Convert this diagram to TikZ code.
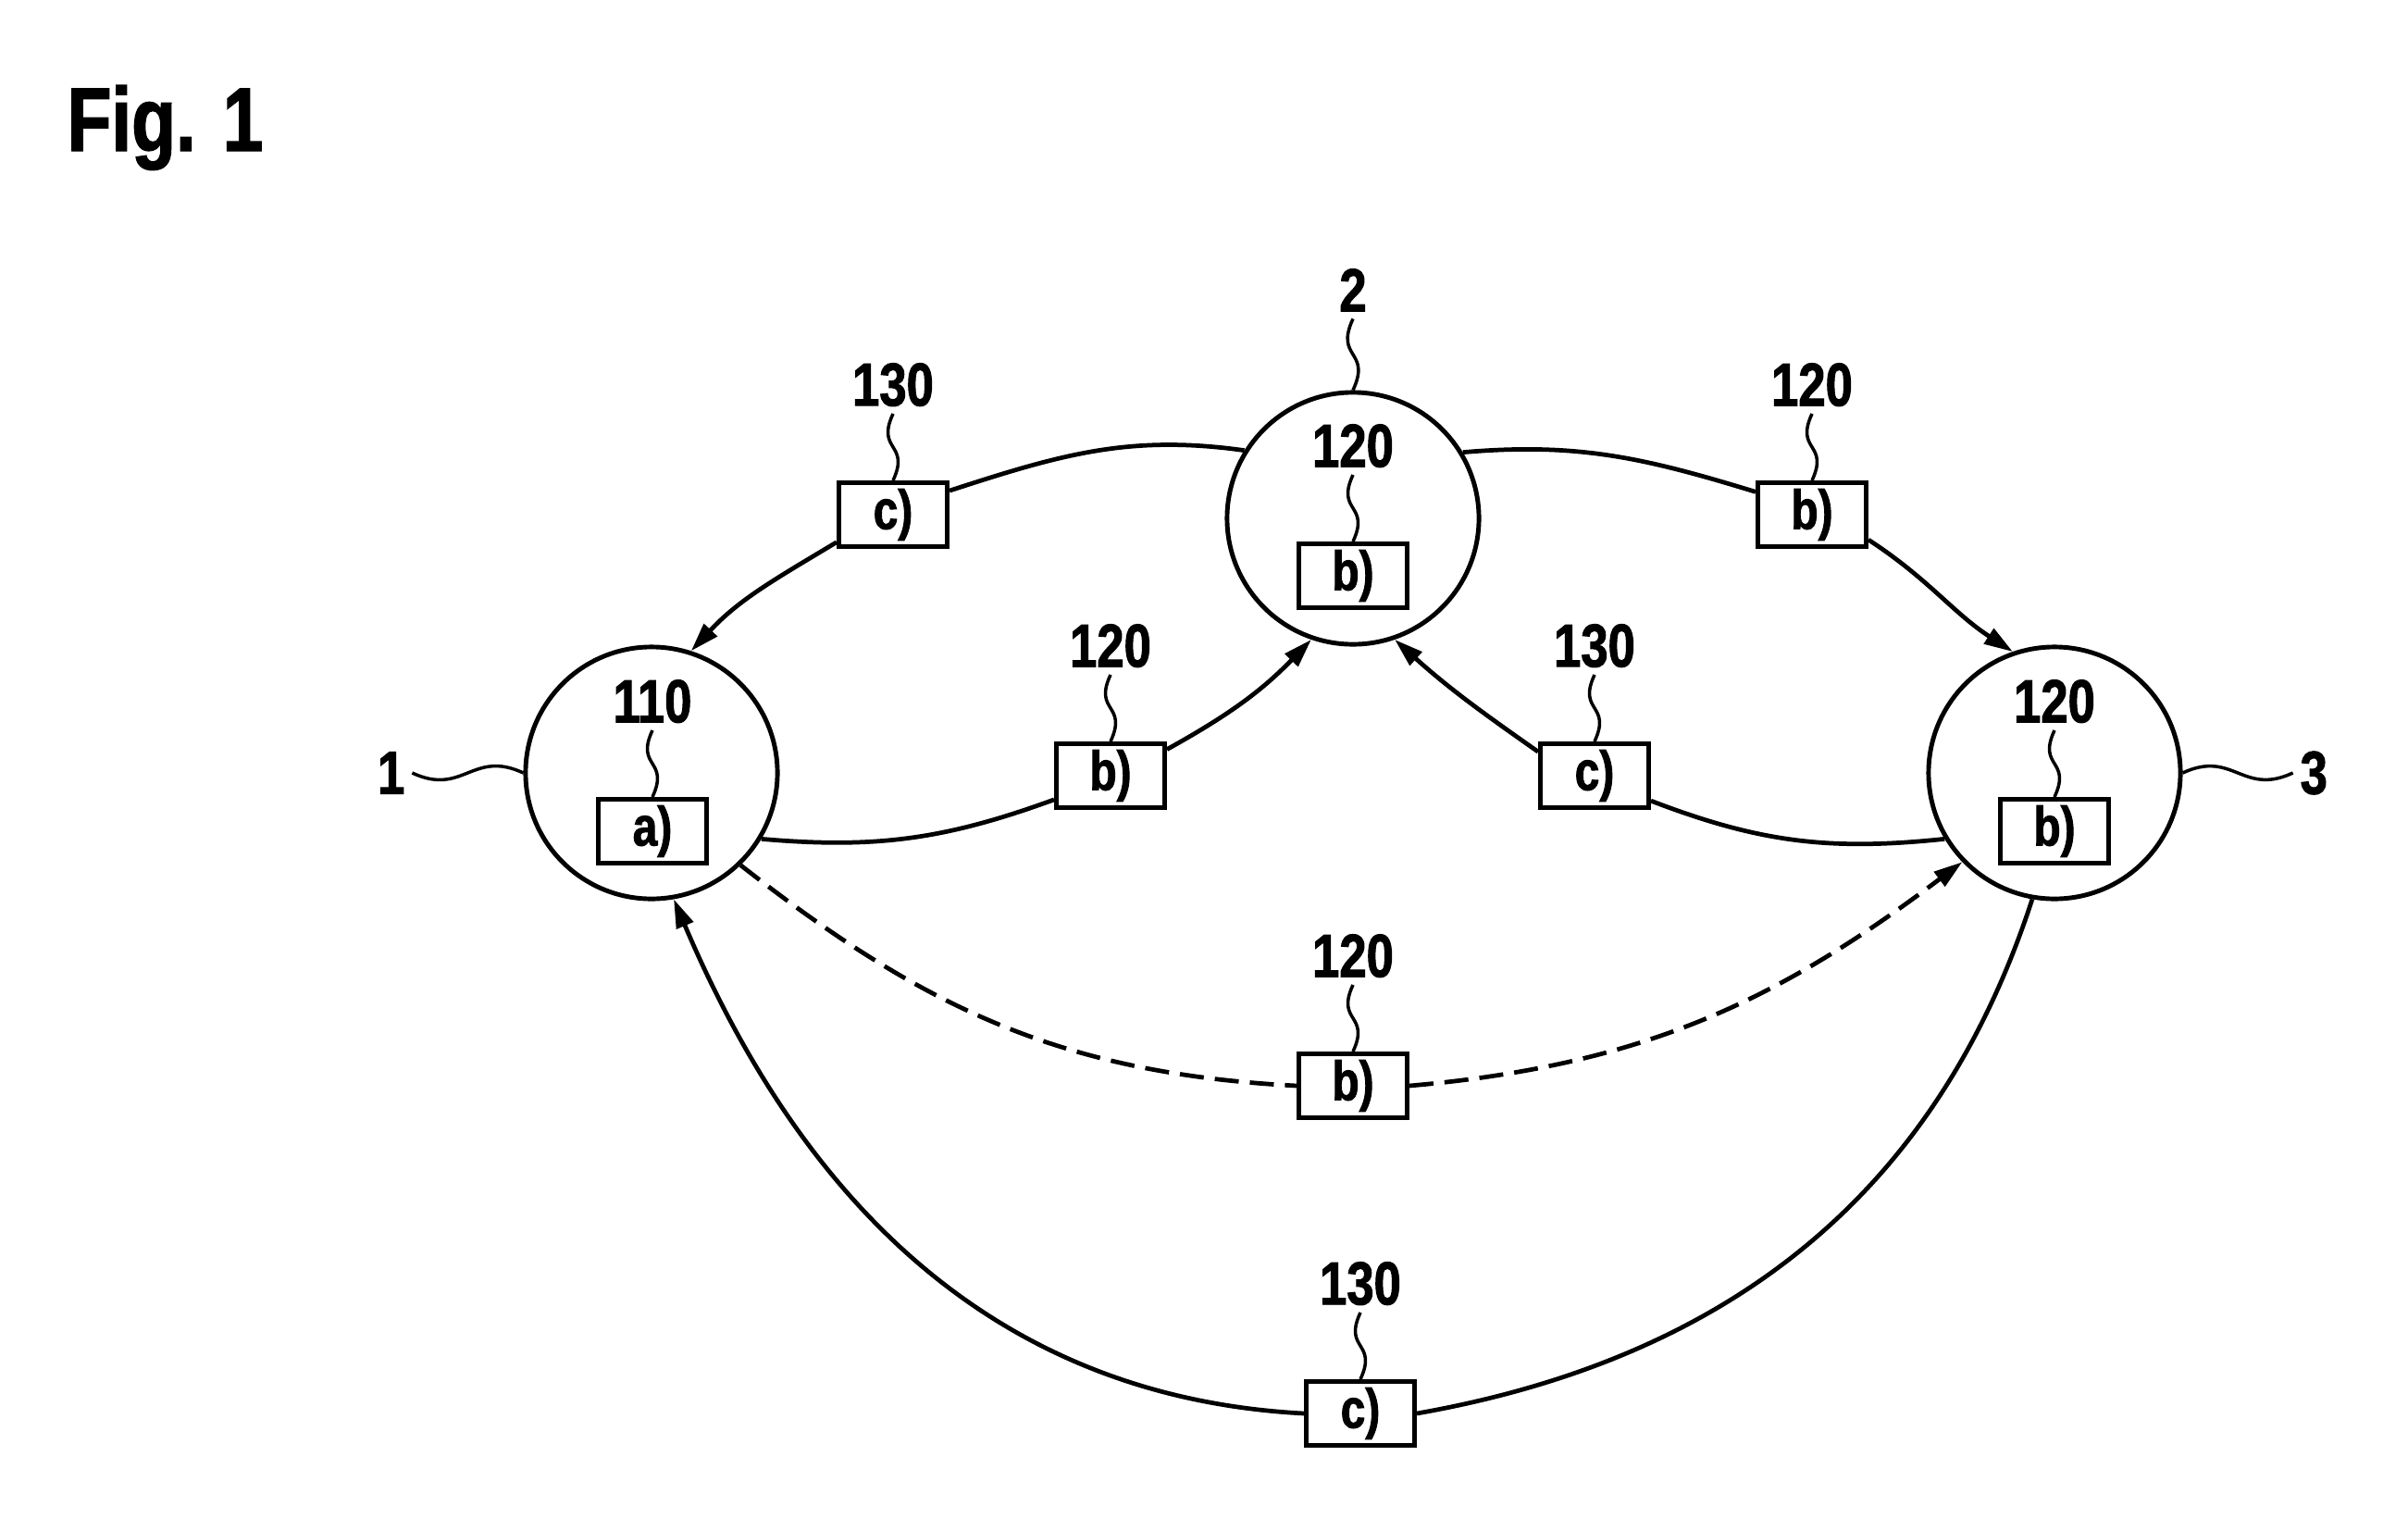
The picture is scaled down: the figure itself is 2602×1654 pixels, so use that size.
\documentclass[tikz,border=0pt]{standalone}
\usepackage{fontspec}
\setmainfont{Liberation Sans}[FakeStretch=0.8, BoldFeatures={FakeBold=1.5}]
\usetikzlibrary{arrows.meta, positioning}

\begin{document}
\begin{tikzpicture}[
                x=0.01cm, y=0.01cm,
                >={Triangle[length=3.1mm, width=1.9mm]},
                font=\bfseries,
                knoten/.style={circle, draw, line width=1.4pt, minimum size=2.72cm, inner sep=0pt},
                feld/.style={rectangle, draw, line width=1.4pt, minimum width=1.17cm, minimum height=0.69cm, inner sep=0pt, font={\fontsize{17}{17}\selectfont\bfseries}},
                nummer/.style={inner sep=0pt, outer sep=0.08cm, font={\fontsize{18.7}{19}\selectfont\bfseries}},
                kante/.style={line width=1.35pt},
                strich/.style={dash pattern=on 0.26cm off 0.12cm},
                bezug/.style={line width=1pt, out=-115, in=65, looseness=1.6}
            ]
                \useasboundingbox (0,0) rectangle (2602,-1654);

                % --- TITEL ---
                \node[anchor=base west, inner sep=0pt, font={\fontsize{27.8}{28}\selectfont\bfseries}] (titel) at (72,-163) {Fig. 1};

                % --- KNOTEN ---
                \node[knoten] (n1) at (704,-835) {};
                \node[knoten] (n2) at (1462,-560) {};
                \node[knoten] (n3) at (2220,-835) {};
                \node[feld] (f1) at (705,-898) {a)};
                \node[feld] (f2) at (1462,-622) {b)};
                \node[feld] (f3) at (2220,-898) {b)};

                % --- FELDER AUF DEN KANTEN ---
                \node[feld] (k21) at (965,-556) {c)};
                \node[feld] (k23) at (1958,-556) {b)};
                \node[feld] (k12) at (1200,-838) {b)};
                \node[feld] (k32) at (1723,-838) {c)};
                \node[feld] (k13) at (1462,-1173) {b)};
                \node[feld] (k31) at (1470,-1527) {c)};

                % --- BEZUGSZEICHEN ---
                \node[nummer, left=1.2cm of n1] (zn1) {1};
                \node[nummer, above=0.77cm of n2] (zn2) {2};
                \node[nummer, right=1.19cm of n3] (zn3) {3};
                \node[nummer, above=0.72cm of f1] (zf1) {110};
                \node[nummer, above=0.72cm of f2] (zf2) {120};
                \node[nummer, above=0.72cm of f3] (zf3) {120};
                \node[nummer, above=0.72cm of k21] (z21) {130};
                \node[nummer, above=0.72cm of k23] (z23) {120};
                \node[nummer, above=0.72cm of k12] (z12) {120};
                \node[nummer, above=0.72cm of k32] (z32) {130};
                \node[nummer, above=0.72cm of k13] (z13) {120};
                \node[nummer, above=0.72cm of k31] (z31) {130};

                \draw[line width=1pt] (zn1.east) to[out=-25, in=155, looseness=1.3] (n1.west);
                \draw[line width=1pt] (n3.east) to[out=25, in=205, looseness=1.3] (zn3.west);
                \draw[bezug] (zn2.south) to (n2.north);
                \draw[bezug] (zf1.south) to (f1.north);
                \draw[bezug] (zf2.south) to (f2.north);
                \draw[bezug] (zf3.south) to (f3.north);
                \draw[bezug] (z21.south) to (k21.north);
                \draw[bezug] (z23.south) to (k23.north);
                \draw[bezug] (z12.south) to (k12.north);
                \draw[bezug] (z32.south) to (k32.north);
                \draw[bezug] (z13.south) to (k13.north);
                \draw[bezug] (z31.south) to (k31.north);

                % --- KANTEN ---
                \draw[kante] (n2.148) to[out=172, in=18] (k21.23);
                \draw[kante, ->] (k21.206) to[out=211, in=47] (n1.72);
                \draw[kante] (n1.-31) to[out=-5, in=200] (k12.203);
                \draw[kante, ->] (k12.25) to[out=29, in=226] (n2.251);
                \draw[kante] (n2.31) to[out=5, in=163] (k23.158);
                \draw[kante, ->] (k23.-24) to[out=-33, in=147] (n3.109);
                \draw[kante] (n3.211) to[out=186, in=-21] (k32.-24);
                \draw[kante, ->] (k32.157) to[out=145, in=-42] (n2.-71);
                \draw[kante, strich] (n1.-46) to[out=-38, in=177] (k13.west);
                \draw[kante, strich, ->] (k13.east) to[out=5, in=217] (n3.224);
                \draw[kante] (n3.-100) to[out=252, in=10] (k31.east);
                \draw[kante, ->] (k31.west) to[out=177, in=-67] (n1.-80);

            \end{tikzpicture}
\end{document}
